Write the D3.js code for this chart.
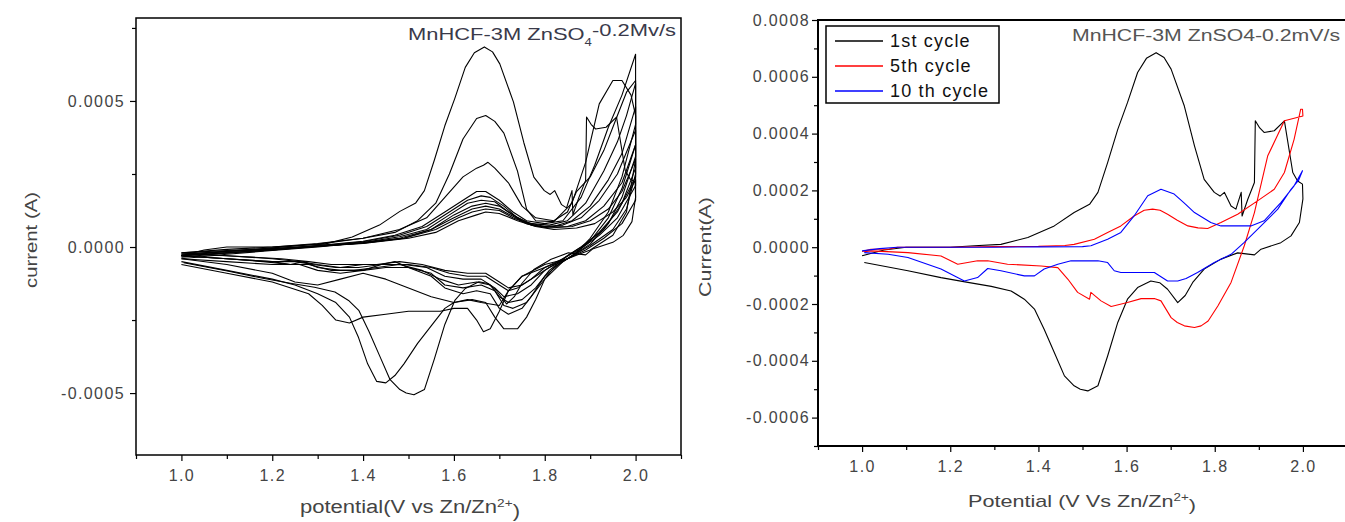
<!DOCTYPE html>
<meta charset="utf-8">
<style>
  body { margin: 0; background: #fff; }
  text { font-family: "Liberation Sans", Arial, sans-serif; }
</style>
<svg width="1345" height="522"></svg>

<script src="https://d3js.org/d3.v7.min.js"></script>
<script>
// ---- data (potential V, current A) ----
var xTicks = [1.0, 1.2, 1.4, 1.6, 1.8, 2.0]
var xMinorTicks = [0.9, 1.1, 1.3, 1.5, 1.7, 1.9, 2.1]
var leftYTicks = [-0.0005, 0, 0.0005]
var leftYMinor = [-0.00025, 0.00025, 0.00075]
var rightYTicks = [-0.0006, -0.0004, -0.0002, 0, 0.0002, 0.0004, 0.0006, 0.0008]
var rightYMinor = [-0.0007, -0.0005, -0.0003, -0.0001, 0.0001, 0.0003, 0.0005, 0.0007]
var legendLabels = ['1st cycle', '5th cycle', '10 th cycle']
var legendColors = ['#000', '#ff0000', '#0000ff']

var cycle1 = [[1.0,-0.00003],[1.05,-0.00001],[1.1,0],[1.2,0],[1.255,0.000005],[1.315,0.00001],[1.376,0.000034],[1.436,0.000075],[1.481,0.000122],[1.516,0.000151],[1.535,0.000193],[1.557,0.000298],[1.58,0.000415],[1.602,0.000509],[1.625,0.000615],[1.645,0.000665],[1.667,0.000685],[1.685,0.000668],[1.701,0.000627],[1.731,0.000497],[1.754,0.000357],[1.776,0.000239],[1.799,0.000193],[1.812,0.00018],[1.822,0.000193],[1.837,0.000145],[1.848,0.000134],[1.86,0.000193],[1.862,0.00011],[1.875,0.000169],[1.89,0.000228],[1.892,0.000445],[1.902,0.00042],[1.912,0.000404],[1.935,0.00041],[1.958,0.000445],[1.977,0.000263],[1.988,0.000233],[1.999,0.000222],[2.0,0.00017],[1.992,0.000087],[1.973,0.00004],[1.95,0.000016],[1.905,-0.000007],[1.89,-0.000027],[1.852,-0.00002],[1.814,-0.000042],[1.776,-0.000077],[1.75,-0.000124],[1.733,-0.00017],[1.716,-0.000195],[1.693,-0.000148],[1.675,-0.000125],[1.655,-0.000119],[1.625,-0.000142],[1.602,-0.000183],[1.58,-0.000265],[1.557,-0.000383],[1.535,-0.000488],[1.512,-0.000506],[1.495,-0.0005],[1.481,-0.000488],[1.459,-0.000453],[1.436,-0.000371],[1.413,-0.000289],[1.391,-0.000218],[1.368,-0.000183],[1.338,-0.000154],[1.293,-0.000138],[1.24,-0.000124],[1.179,-0.000107],[1.104,-0.000083],[1.005,-0.000054]]

var cycle5 = [[1.0,-0.000015],[1.02,-0.000007],[1.06,-0.000007],[1.08,0],[1.2,0],[1.3,0.000002],[1.4,0.000003],[1.46,0.000006],[1.481,0.00001],[1.527,0.000028],[1.557,0.000052],[1.587,0.000075],[1.617,0.00011],[1.64,0.00013],[1.659,0.000134],[1.676,0.00013],[1.693,0.000116],[1.715,0.000095],[1.739,0.000075],[1.762,0.000068],[1.784,0.000066],[1.814,0.000087],[1.852,0.000116],[1.897,0.000163],[1.935,0.000204],[1.958,0.000263],[1.98,0.00038],[1.995,0.000486],[1.999,0.000486],[2.0,0.000462],[1.958,0.000445],[1.92,0.000321],[1.89,0.000122],[1.867,0.000005],[1.837,-0.000124],[1.807,-0.000207],[1.785,-0.00026],[1.769,-0.000277],[1.754,-0.000283],[1.731,-0.000277],[1.715,-0.000265],[1.701,-0.000248],[1.678,-0.000189],[1.663,-0.000181],[1.633,-0.000181],[1.602,-0.000195],[1.565,-0.000209],[1.542,-0.000189],[1.519,-0.000159],[1.516,-0.000183],[1.489,-0.000159],[1.467,-0.000113],[1.444,-0.000072],[1.406,-0.000066],[1.33,-0.00006],[1.285,-0.000048],[1.262,-0.000048],[1.217,-0.00006],[1.179,-0.000031],[1.104,-0.000019],[1.02,-0.000013],[1.005,-0.000016]]

var cycle10 = [[1.0,-0.000013],[1.04,-0.000005],[1.08,0],[1.2,0],[1.3,0],[1.4,0.000001],[1.5,0.000002],[1.519,0.000005],[1.557,0.000028],[1.587,0.000052],[1.617,0.00011],[1.648,0.000181],[1.678,0.000204],[1.708,0.000187],[1.731,0.000155],[1.754,0.000122],[1.791,0.000087],[1.814,0.000075],[1.882,0.000075],[1.912,0.000093],[1.95,0.000157],[1.98,0.000216],[1.999,0.000269],[1.99,0.000235],[1.973,0.000204],[1.943,0.000134],[1.905,0.000075],[1.867,0.000017],[1.837,-0.000025],[1.799,-0.000054],[1.761,-0.000089],[1.735,-0.00011],[1.716,-0.000119],[1.693,-0.000119],[1.663,-0.000089],[1.633,-0.000089],[1.587,-0.000089],[1.572,-0.000083],[1.557,-0.000054],[1.535,-0.000048],[1.474,-0.000048],[1.444,-0.00006],[1.413,-0.000077],[1.391,-0.000101],[1.368,-0.000101],[1.315,-0.000083],[1.285,-0.000075],[1.262,-0.000107],[1.232,-0.000119],[1.179,-0.000077],[1.104,-0.000036],[1.059,-0.000025],[1.005,-0.000019]]

// left plot: all ten cycles, black
var left2 = [[1.0,-0.00002],[1.1,-0.000008],[1.2,0],[1.3,0.000012],[1.4,0.00003],[1.47,0.00005],[1.52,0.00009],[1.56,0.00015],[1.59,0.00025],[1.62,0.00037],[1.65,0.00044],[1.67,0.00045],[1.69,0.00043],[1.71,0.00039],[1.74,0.00026],[1.76,0.00013],[1.78,0.00009],[1.82,0.000087],[1.86,0.00015],[1.89,0.00029],[1.92,0.00049],[1.95,0.00057],[1.97,0.00057],[1.99,0.00052],[2.0,0.00045],[2.0,0.0003],[1.98,0.00012],[1.95,0.00004],[1.9,-0.00001],[1.85,-0.00004],[1.8,-0.00006],[1.75,-0.0001],[1.72,-0.00015],[1.7,-0.0002],[1.66,-0.00019],[1.63,-0.00018],[1.6,-0.00019],[1.58,-0.00021],[1.55,-0.00027],[1.52,-0.00033],[1.49,-0.0004],[1.47,-0.00044],[1.45,-0.000465],[1.43,-0.00046],[1.41,-0.0004],[1.39,-0.00031],[1.37,-0.00024],[1.34,-0.00019],[1.3,-0.00016],[1.25,-0.00013],[1.2,-0.00011],[1.1,-0.00008],[1.0,-0.00005]]
var left3 = [[1.0,-0.00003],[1.1,-0.000015],[1.2,-0.000003],[1.3,0.00001],[1.4,0.00003],[1.48,0.00006],[1.54,0.0001],[1.58,0.00017],[1.62,0.00024],[1.65,0.00027],[1.665,0.00028],[1.675,0.00029],[1.69,0.00027],[1.72,0.00022],[1.75,0.00014],[1.78,0.0001],[1.82,0.00009],[1.85,0.00012],[1.87,0.00019],[1.9,0.00024],[1.93,0.00033],[1.96,0.00045],[1.98,0.00053],[2.0,0.00057],[2.0,0.00025],[1.98,0.00013],[1.95,0.00006],[1.9,0.000005],[1.85,-0.00004],[1.8,-0.00007],[1.75,-0.0001],[1.72,-0.00015],[1.7,-0.00022],[1.68,-0.00028],[1.665,-0.00029],[1.65,-0.00025],[1.63,-0.00021],[1.6,-0.00021],[1.57,-0.00022],[1.5,-0.00022],[1.45,-0.00023],[1.4,-0.00024],[1.37,-0.00026],[1.34,-0.00025],[1.31,-0.0002],[1.28,-0.00016],[1.2,-0.00012],[1.1,-0.00009],[1.0,-0.00006]]
var left4 = [[1.0,-0.00003],[1.1,-0.00002],[1.2,-0.00001],[1.3,0.000005],[1.4,0.00002],[1.47,0.00004],[1.53,0.00007],[1.58,0.00012],[1.62,0.00016],[1.65,0.00019],[1.67,0.00019],[1.7,0.00016],[1.73,0.00012],[1.76,0.00009],[1.8,0.00008],[1.84,0.00009],[1.88,0.00017],[1.91,0.00028],[1.94,0.00041],[1.97,0.00052],[2.0,0.00066],[2.0,0.00042],[1.97,0.00024],[1.94,0.00012],[1.9,0.00003],[1.87,-0.00002],[1.84,-0.00005],[1.8,-0.00011],[1.78,-0.00018],[1.76,-0.00024],[1.74,-0.00028],[1.71,-0.00028],[1.69,-0.00024],[1.67,-0.00019],[1.64,-0.00018],[1.6,-0.00019],[1.55,-0.00017],[1.5,-0.00014],[1.45,-0.00011],[1.4,-0.00009],[1.35,-0.00011],[1.3,-0.00013],[1.25,-0.00012],[1.2,-0.00009],[1.1,-0.00006],[1.0,-0.00004]]
var left5 = [[1.0,-0.000035],[1.1,-0.00002],[1.2,-0.00001],[1.3,0.000003],[1.4,0.000018],[1.48,0.00004],[1.54,0.00007],[1.59,0.00012],[1.63,0.00016],[1.66,0.000175],[1.68,0.00017],[1.71,0.00014],[1.74,0.0001],[1.77,0.00008],[1.81,0.000075],[1.85,0.00009],[1.89,0.00015],[1.93,0.00026],[1.96,0.00036],[1.98,0.00045],[2.0,0.00056],[2.0,0.00035],[1.97,0.0002],[1.94,0.0001],[1.9,0.00002],[1.86,-0.00003],[1.83,-0.00006],[1.8,-0.0001],[1.77,-0.00017],[1.75,-0.00021],[1.72,-0.00023],[1.7,-0.00021],[1.68,-0.00016],[1.65,-0.00015],[1.62,-0.00016],[1.58,-0.00014],[1.55,-0.0001],[1.5,-0.00007],[1.47,-0.00005],[1.44,-0.00006],[1.4,-0.00008],[1.35,-0.00008],[1.3,-0.00007],[1.27,-0.00005],[1.24,-0.00006],[1.2,-0.00005],[1.1,-0.00004],[1.0,-0.00003]]
var left6 = [[1.0,-0.00004],[1.1,-0.000025],[1.2,-0.000012],[1.3,0],[1.4,0.000015],[1.48,0.000035],[1.54,0.00006],[1.59,0.00011],[1.63,0.00015],[1.66,0.00016],[1.69,0.000155],[1.72,0.00012],[1.75,0.00009],[1.78,0.000072],[1.82,0.00007],[1.86,0.00009],[1.9,0.00014],[1.94,0.00023],[1.97,0.00032],[2.0,0.00048],[2.0,0.00031],[1.97,0.00017],[1.94,0.00008],[1.9,0.00001],[1.86,-0.00003],[1.82,-0.00007],[1.79,-0.00013],[1.76,-0.00019],[1.73,-0.00021],[1.71,-0.0002],[1.69,-0.00015],[1.66,-0.00013],[1.62,-0.00014],[1.58,-0.00013],[1.55,-0.00009],[1.5,-0.00007],[1.45,-0.00007],[1.4,-0.00008],[1.35,-0.00009],[1.3,-0.00008],[1.26,-0.00006],[1.2,-0.00006],[1.1,-0.00005],[1.0,-0.00004]]
var left7 = [[1.0,-0.00003],[1.1,-0.00002],[1.2,-0.00001],[1.3,0.000002],[1.4,0.000015],[1.48,0.00003],[1.55,0.00006],[1.6,0.00011],[1.64,0.00014],[1.67,0.00015],[1.7,0.00014],[1.73,0.00011],[1.76,0.000085],[1.8,0.00007],[1.84,0.000075],[1.88,0.0001],[1.92,0.00016],[1.96,0.00025],[2.0,0.0004],[2.0,0.00027],[1.97,0.00015],[1.93,0.00006],[1.89,0.00001],[1.85,-0.00003],[1.81,-0.00008],[1.78,-0.00014],[1.75,-0.00018],[1.72,-0.00019],[1.7,-0.00017],[1.68,-0.00013],[1.65,-0.00012],[1.61,-0.00013],[1.57,-0.00011],[1.53,-0.00008],[1.48,-0.00006],[1.43,-0.00007],[1.38,-0.00008],[1.33,-0.00008],[1.28,-0.00006],[1.24,-0.00006],[1.18,-0.00005],[1.1,-0.00004],[1.0,-0.00003]]
var left8 = [[1.0,-0.000025],[1.1,-0.000015],[1.2,-0.000008],[1.3,0.000003],[1.4,0.000014],[1.49,0.00003],[1.55,0.00006],[1.6,0.0001],[1.64,0.00013],[1.67,0.00014],[1.7,0.00013],[1.73,0.000105],[1.76,0.00008],[1.8,0.000068],[1.85,0.00007],[1.89,0.00009],[1.93,0.00014],[1.97,0.00022],[2.0,0.00035],[2.0,0.00024],[1.96,0.00012],[1.92,0.00005],[1.88,0],[1.84,-0.00004],[1.8,-0.00008],[1.77,-0.00013],[1.74,-0.00016],[1.71,-0.00017],[1.69,-0.00014],[1.66,-0.00011],[1.62,-0.00011],[1.58,-0.0001],[1.54,-0.00007],[1.49,-0.00006],[1.44,-0.00006],[1.39,-0.00007],[1.34,-0.00007],[1.29,-0.00006],[1.25,-0.00005],[1.2,-0.00005],[1.1,-0.00004],[1.0,-0.00003]]
var left9 = [[1.0,-0.00002],[1.1,-0.000012],[1.2,-0.000005],[1.3,0.000004],[1.4,0.000013],[1.49,0.00003],[1.56,0.00006],[1.61,0.0001],[1.64,0.00012],[1.67,0.00013],[1.7,0.000125],[1.73,0.0001],[1.77,0.000075],[1.81,0.000065],[1.86,0.00007],[1.9,0.00009],[1.94,0.00013],[1.97,0.00019],[2.0,0.0003],[2.0,0.00021],[1.96,0.0001],[1.92,0.00004],[1.88,-0.000005],[1.84,-0.00004],[1.8,-0.00007],[1.77,-0.00011],[1.74,-0.00014],[1.72,-0.00015],[1.7,-0.00013],[1.67,-0.0001],[1.63,-0.0001],[1.59,-0.00009],[1.55,-0.00007],[1.5,-0.00006],[1.45,-0.00006],[1.4,-0.00006],[1.35,-0.00007],[1.3,-0.00006],[1.26,-0.00005],[1.2,-0.00004],[1.1,-0.00003],[1.0,-0.00002]]
var left10 = [[1.0,-0.000025],[1.1,-0.000015],[1.2,-0.000006],[1.3,0.000003],[1.4,0.000012],[1.5,0.00003],[1.56,0.00005],[1.61,0.00009],[1.65,0.00011],[1.67,0.00012],[1.7,0.000115],[1.74,0.00009],[1.78,0.00007],[1.82,0.00006],[1.87,0.000065],[1.91,0.00008],[1.95,0.00012],[1.98,0.00017],[2.0,0.00023],[2.0,0.00016],[1.97,0.00008],[1.93,0.00003],[1.89,-0.00001],[1.85,-0.00004],[1.81,-0.00007],[1.78,-0.0001],[1.75,-0.00013],[1.72,-0.00014],[1.7,-0.00012],[1.67,-0.00009],[1.63,-0.00009],[1.58,-0.00008],[1.53,-0.00006],[1.48,-0.00005],[1.43,-0.00006],[1.38,-0.00006],[1.33,-0.00006],[1.28,-0.00005],[1.22,-0.00004],[1.1,-0.00003],[1.0,-0.000025]]

var svg = d3.select('svg')
var tickColor = '#444'

function sup(textSel, parts) {
  // parts: [text, isSup]
  parts.forEach(function (p) {
    var t = textSel.append('tspan').text(p[0])
    if (p[1]) t.attr('font-size', '0.62em').attr('dy', '-0.55em')
    else if (p[2]) t.attr('dy', '0.55em')
  })
}

function drawPanel(p) {
  var x = d3.scaleLinear().domain([0.9, 2.1]).range([p.left, p.right])
  var y = d3.scaleLinear().domain(p.yDomain).range([p.bottom, p.top])
  var g = svg.append('g')

  var line = d3.line().x(d => x(d[0])).y(d => y(d[1]))
  g.selectAll('path.cv').data(p.series).enter().append('path')
    .attr('class', 'cv')
    .attr('d', d => line(d.values))
    .attr('fill', 'none')
    .attr('stroke', d => d.color)
    .attr('stroke-width', 1.1)
    .attr('stroke-linejoin', 'round')

  function styleAxis(a) {
    a.select('.domain').remove()
    a.selectAll('line').attr('stroke', '#000').attr('stroke-width', 1.2)
    a.selectAll('text').attr('fill', tickColor).attr('font-size', 16)
      .attr('font-family', '"Liberation Sans", Arial, sans-serif')
      .attr('letter-spacing', 1.4)
  }

  g.append('g').attr('transform', `translate(0,${p.bottom})`)
    .call(d3.axisBottom(x).tickValues(xTicks).tickSize(6).tickPadding(9).tickFormat(d => d.toFixed(1)))
    .call(styleAxis)
  g.append('g').attr('transform', `translate(0,${p.bottom})`)
    .call(d3.axisBottom(x).tickValues(xMinorTicks).tickSize(4).tickFormat(''))
    .call(styleAxis)
  g.append('g').attr('transform', `translate(${p.left},0)`)
    .call(d3.axisLeft(y).tickValues(p.yTicks).tickSize(6).tickPadding(p.yPad).tickFormat(d => d.toFixed(4)))
    .call(styleAxis)
  g.append('g').attr('transform', `translate(${p.left},0)`)
    .call(d3.axisLeft(y).tickValues(p.yMinor).tickSize(4).tickFormat(''))
    .call(styleAxis)

  g.append('rect')
    .attr('x', p.left).attr('y', p.top)
    .attr('width', p.right - p.left).attr('height', p.bottom - p.top)
    .attr('fill', 'none').attr('stroke', '#000').attr('stroke-width', p.frame)
  return g
}

// left panel
var leftSeries = [cycle1, left2, left3, left4, left5, left6, left7, left8, left9, left10]
  .map(v => ({ values: v, color: '#000' }))
drawPanel({ left: 136, right: 681, top: 18, bottom: 455, yDomain: [-0.000712, 0.000784],
  yTicks: leftYTicks, yMinor: leftYMinor, yPad: 5, series: leftSeries, frame: 1.5 })

// right panel
var rightSeries = [{ values: cycle1, color: legendColors[0] },
  { values: cycle5, color: legendColors[1] },
  { values: cycle10, color: legendColors[2] }]
drawPanel({ left: 818, right: 1347, top: 20, bottom: 446, yDomain: [-0.0007, 0.0008],
  yTicks: rightYTicks, yMinor: rightYMinor, yPad: 2, series: rightSeries, frame: 2 })

// titles
var t1 = svg.append('text').attr('x', 408).attr('y', 40).attr('font-size', 17)
  .attr('fill', '#3a3a4a').attr('textLength', 268).attr('lengthAdjust', 'spacingAndGlyphs')
sup(t1, [['MnHCF-3M ZnSO'], ['4', false, true], ['-0.2Mv/s']])
t1.selectAll('tspan').filter((d, i) => i == 1).attr('font-size', '0.6em')
t1.selectAll('tspan').filter((d, i) => i == 2).attr('dy', '-0.55em')

svg.append('text').attr('x', 1072).attr('y', 41).attr('font-size', 16)
  .attr('fill', '#555').attr('textLength', 268).attr('lengthAdjust', 'spacingAndGlyphs')
  .text('MnHCF-3M ZnSO4-0.2mV/s')

// axis titles
svg.append('text').attr('transform', 'translate(37,240) rotate(-90)')
  .attr('text-anchor', 'middle').attr('font-size', 17).attr('fill', '#444')
  .attr('textLength', 96).attr('lengthAdjust', 'spacingAndGlyphs')
  .text('current (A)')
svg.append('text').attr('transform', 'translate(711,247) rotate(-90)')
  .attr('text-anchor', 'middle').attr('font-size', 17).attr('fill', '#444')
  .attr('textLength', 100).attr('lengthAdjust', 'spacingAndGlyphs')
  .text('Current(A)')

var xl1 = svg.append('text').attr('x', 300).attr('y', 513).attr('font-size', 18)
  .attr('fill', '#444').attr('textLength', 220).attr('lengthAdjust', 'spacingAndGlyphs')
sup(xl1, [['potential(V vs Zn/Zn'], ['2+', true]])
xl1.append('tspan').attr('dy', '0.55em').text(')')

var xl2 = svg.append('text').attr('x', 968).attr('y', 507).attr('font-size', 17)
  .attr('fill', '#444').attr('textLength', 228).attr('lengthAdjust', 'spacingAndGlyphs')
sup(xl2, [['Potential (V Vs Zn/Zn'], ['2+', true]])
xl2.append('tspan').attr('dy', '0.55em').text(')')

// legend
var legend = svg.append('g')
legend.append('rect').attr('x', 826).attr('y', 26).attr('width', 173).attr('height', 77)
  .attr('fill', '#fff').attr('stroke', '#000').attr('stroke-width', 1.5)
var rows = legend.selectAll('g.row').data(legendLabels).enter().append('g')
  .attr('transform', (d, i) => `translate(0,${41 + i * 25})`)
rows.append('line').attr('x1', 835).attr('x2', 883)
  .attr('stroke', (d, i) => legendColors[i]).attr('stroke-width', 1.3)
rows.append('text').attr('x', 890).attr('y', 6).attr('font-size', 18)
  .attr('fill', '#111').attr('letter-spacing', 1.2).text(d => d)
</script>
